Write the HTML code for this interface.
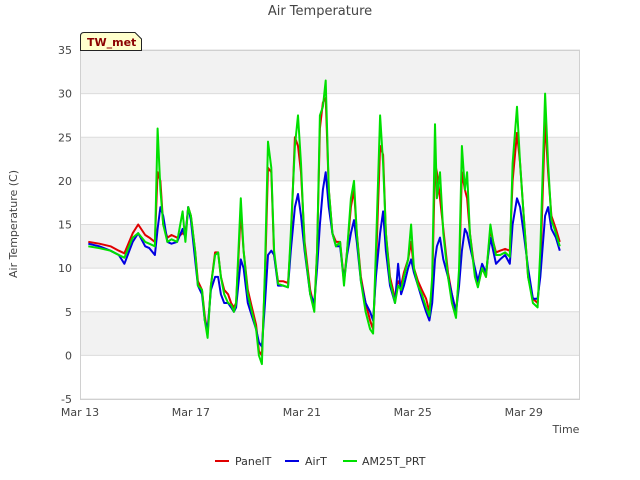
<!DOCTYPE html>
<html><head><meta charset="utf-8"><style>
body{margin:0;background:#fff;}
svg{display:block;font-family:"DejaVu Sans","Liberation Sans",sans-serif;}
</style></head><body>
<svg width="640" height="480">
<g id="bands"></g>
<g id="grid"></g>
<g id="series"></g>
<g id="axes"></g>
<text x="320" y="15" text-anchor="middle" font-size="13" fill="#444">Air Temperature</text>
<text transform="translate(17,224) rotate(-90)" text-anchor="middle" font-size="11" fill="#444">Air Temperature (C)</text>
<text x="566" y="433" text-anchor="middle" font-size="11" fill="#444">Time</text>
<g>
<path d="M80.5,50.5 V36 Q80.5,32.5 84,32.5 H135 L141.5,39 V50.5 Z" fill="#ffffcc" stroke="#222" stroke-width="1"/>
<text x="87" y="46" font-size="11" font-weight="bold" fill="#8b0000">TW_met</text>
</g>
<g>
<g><line x1="215" y1="461" x2="229" y2="461" stroke="#e00000" stroke-width="2"/><text x="235" y="465" font-size="11" fill="#333">PanelT</text></g>
<g><line x1="285" y1="461" x2="299" y2="461" stroke="#0000e0" stroke-width="2"/><text x="305" y="465" font-size="11" fill="#333">AirT</text></g>
<g><line x1="343" y1="461" x2="357" y2="461" stroke="#00e000" stroke-width="2"/><text x="362" y="465" font-size="11" fill="#333">AM25T_PRT</text></g>
</g>
</svg>
<script>
const days=[0.3,0.7,1.1,1.4,1.6,1.9,2.1,2.35,2.5,2.7,2.8,2.9,3.0,3.15,3.3,3.5,3.7,3.8,3.9,4.0,4.15,4.25,4.4,4.5,4.6,4.72,4.87,4.98,5.08,5.2,5.34,5.45,5.55,5.63,5.8,5.9,6.05,6.2,6.35,6.45,6.56,6.67,6.78,6.9,7.0,7.14,7.32,7.5,7.6,7.75,7.86,7.97,8.1,8.3,8.45,8.55,8.65,8.76,8.86,8.97,9.1,9.23,9.38,9.52,9.63,9.77,9.88,9.98,10.13,10.3,10.46,10.57,10.67,10.82,10.93,11.03,11.18,11.36,11.47,11.58,11.68,11.83,11.94,12.04,12.19,12.33,12.48,12.6,12.7,12.8,12.87,12.98,13.1,13.27,13.41,13.56,13.67,13.77,13.88,13.96,14.06,14.24,14.35,14.5,14.64,14.8,14.9,15.0,15.15,15.33,15.5,15.6,15.76,15.87,16.0,16.16,16.33,16.5,16.6,16.77,16.88,17.0,17.16,17.3];
const am25t=[12.5,12.3,12,11.5,11.2,13.5,14,13,12.8,12.5,26,19,15,13,13.3,13,16.5,13,17,16,12,8,7.5,4,2,8,11.5,11.8,9,7,6,5.8,5,6,18,12,7,5,3,0,-1,10,24.5,21.5,12,8.2,8,7.8,14,24,27.5,22,12.5,7,5,12,27.5,28.5,31.5,19,14,12.5,13,8,12,18,20,14,8.5,5,3,2.5,12,27.5,22,14,8.5,6,8,7.5,9,11,15,10,8,7,5.5,4.5,9,26.5,18,21,14,9,6,4.3,10,24,19,21,14,9,7.8,10,9,15,13,11.5,11.5,11.8,11.3,22,28.5,22,16,9,6,5.5,12,30,22,15.5,14,12.5];
const panelT=[13,12.8,12.5,12,11.7,14,15,13.8,13.5,13,21,20,15,13.5,13.8,13.5,14,13.8,17,16,12,8.5,7.5,4.5,2.5,8,11.8,11.8,9,7.5,7,6,5.5,6,16.5,12,7.5,5.5,3.5,0.5,0,9,21.5,21,11.5,8.5,8.5,8.3,13,25,24,21,13,7.5,5.5,12,26,29,29.5,19,14,13,13,8.5,12,17,19,14,9,6,4,3,10,24,23,14,9,6.5,8.5,8,9.5,11,13,10,8.5,7.5,6.5,5,8,22,21,18,14.5,9.5,7,5,9,21,19,18,14,9.5,8,10,9,14.5,13,11.8,12,12.2,12,20,25.5,22,16,9,6.5,6,10,27,21,16,14.5,13];
const airT=[12.8,12.5,12,11.5,10.5,13,14,12.5,12.3,11.5,14.5,17,16,13,12.8,13,14.5,13.5,17,15.5,11,8,7,4,3,7.5,9,9,7,6,6,5.5,5,5.5,11,10,6,4.5,3,1.5,1,6,11.5,12,11.5,8,8,7.8,12,17,18.5,16,12,7,6,10,15,19,21,17,14,12.5,12.5,8.5,11.5,14,15.5,13,8.5,6,5,4,9,14,16.5,12,8,6,10.5,7,8,10,11,9.5,8,6.5,5,4,6,11,12.5,13.5,11,9,7,5,8,12,14.5,14,12.5,10,8.5,10.5,9.5,13.5,12,10.5,11,11.5,10.5,15,18,17,14,10,6.5,6.5,9,16,17,14.5,13.5,12];
const yTicks=[-5,0,5,10,15,20,25,30,35];
const xTickDays=[0,4,8,12,16];
const xTickLabels=["Mar 13","Mar 17","Mar 21","Mar 25","Mar 29"];
const NS="http://www.w3.org/2000/svg";
const L=80,R=580,T=50,B=399,ymin=-5,ymax=35,dmax=18.03;
const xs=d=>L+d*(R-L)/dmax, ys=v=>B-(v-ymin)*(B-T)/(ymax-ymin);
function mk(tag,attrs,parent){const e=document.createElementNS(NS,tag);for(const k in attrs)e.setAttribute(k,attrs[k]);document.getElementById(parent).appendChild(e);return e;}
for(let i=0;i<yTicks.length-1;i++){if(i%2===1){const r=mk('rect',{x:L,y:ys(yTicks[i+1]),width:R-L,height:ys(yTicks[i])-ys(yTicks[i+1]),fill:'#f2f2f2'},'bands');

}}
yTicks.forEach(v=>{const l=mk('line',{x1:L,x2:R,y1:ys(v),y2:ys(v),stroke:'#dcdcdc','stroke-width':1},'grid');


const t=mk('text',{x:72,y:ys(v)+4,'text-anchor':'end','font-size':11,fill:'#444'},'axes');t.textContent=v;

});
xTickDays.forEach((d,i)=>{const t=mk('text',{x:xs(d),y:416,'text-anchor':'middle','font-size':11,fill:'#444'},'axes');t.textContent=xTickLabels[i];

});
const box=mk('rect',{x:L+0.5,y:T+0.5,width:R-L-1,height:B-T,fill:'none',stroke:'#d0d0d0'},'axes');


[[panelT,'#e00000','series-panelt'],[airT,'#0000e0','series-airt'],[am25t,'#00e000','series-am25t']].forEach(([vals,c,n])=>{
const p=mk('polyline',{points:days.map((d,i)=>xs(d).toFixed(1)+','+ys(vals[i]).toFixed(1)).join(' '),fill:'none',stroke:c,'stroke-width':2,'stroke-linejoin':'round'},'series');

});
</script>
</body></html>
